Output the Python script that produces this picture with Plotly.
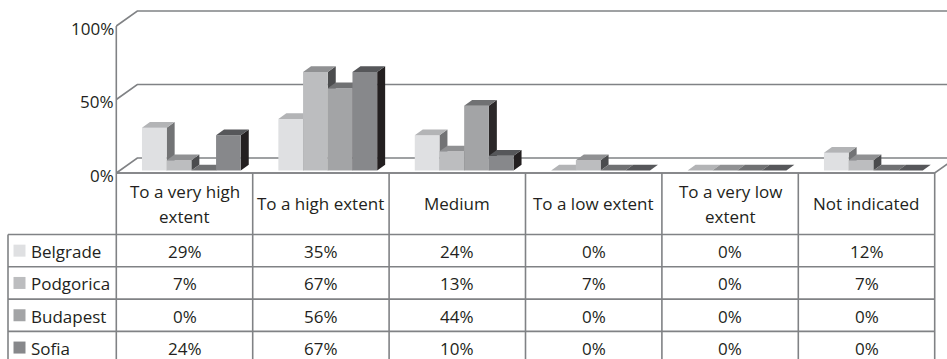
import plotly.graph_objects as go

# ---- data -------------------------------------------------------------
categories = ["To a very high\nextent", "To a high extent", "Medium",
              "To a low extent", "To a very low\nextent", "Not indicated"]
series_names = ["Belgrade", "Podgorica", "Budapest", "Sofia"]
belgrade = [29, 35, 24, 0, 0, 12]
podgorica = [7, 67, 13, 7, 0, 7]
budapest = [0, 56, 44, 0, 0, 0]
sofia = [24, 67, 10, 0, 0, 0]
y_ticks = [0, 50, 100]
y_tick_labels = ["0%", "50%", "100%"]

series_values = [belgrade, podgorica, budapest, sofia]

# ---- styling ------------------------------------------------------------
front_colors = ["#dfe0e2", "#bcbdbf", "#a3a4a6", "#87888b"]
top_colors = ["#b3b4b6", "#909193", "#707173", "#56575a"]
side_colors = ["#727375", "#4b4c4e", "#2b2829", "#231f20"]
line_color = "#808285"
text_color = "#231f20"
FONT = "Open Sans"
FS = 17

W, H = 947, 359
COL_W = 136.4          # px per category column
X_LEFT_PX = 116.3      # px of the front-left corner of the plot
ZERO_PX = 173          # px of the front floor edge / table top
PX_PER_PCT = 1.47      # vertical scale of the value axis
ROW_PX = 32.3          # table body row height

DX = 21 / COL_W        # depth vector (category units)
DY = 15 / PX_PER_PCT   # depth vector (percent units)
BW = 24.7 / COL_W      # bar width
GROUP_SHIFT = 3.3 / COL_W
F0, DEPTH = 0.17, 0.38
HEADER_ROWS = 61.5 / ROW_PX
LINE_STEP = 25 / ROW_PX


def x_of_px(px):
    return (px - X_LEFT_PX) / COL_W - 0.5


n_cat = len(categories)
n_ser = len(series_values)
x_lo, x_hi = -0.5, n_cat - 0.5
x_legend = x_of_px(8)

fig = go.Figure()

# ---- back walls and floor edges ----------------------------------------
gx, gy = [], []
for v in y_ticks:
    gx += [x_lo, x_lo + DX, x_hi + DX, None]
    gy += [v, v + DY, v + DY, None]
gx += [x_lo, x_lo, None, x_lo, x_hi, x_hi + DX, None]
gy += [0, max(y_ticks), None, 0, 0, DY, None]
fig.add_trace(go.Scatter(x=gx, y=gy, mode="lines",
                         line=dict(color=line_color, width=1.6),
                         hoverinfo="skip"))

# ---- 3D columns ---------------------------------------------------------
for s, values in enumerate(series_values):
    fx, fy, tx, ty, sx, sy = [], [], [], [], [], []
    ddx, ddy = DEPTH * DX, DEPTH * DY
    for c, v in enumerate(values):
        x0 = c + GROUP_SHIFT + (s - n_ser / 2) * BW + F0 * DX
        x1 = x0 + BW
        b = F0 * DY
        t = b + v
        if v > 0:
            fx += [x0, x1, x1, x0, x0, None]
            fy += [b, b, t, t, b, None]
            sx += [x1, x1 + ddx, x1 + ddx, x1, x1, None]
            sy += [b, b + ddy, t + ddy, t, b, None]
        tx += [x0, x1, x1 + ddx, x0 + ddx, x0, None]
        ty += [t, t, t + ddy, t + ddy, t, None]
    for xs, ys, col in ((sx, sy, side_colors[s]),
                        (fx, fy, front_colors[s]),
                        (tx, ty, top_colors[s])):
        if xs:
            fig.add_trace(go.Scatter(x=xs, y=ys, mode="lines", fill="toself",
                                     fillcolor=col, line=dict(width=0),
                                     hoverinfo="skip"))

# ---- value axis labels --------------------------------------------------
for v, lab in zip(y_ticks, y_tick_labels):
    fig.add_annotation(x=x_lo, y=v, xref="x", yref="y", text=lab,
                       showarrow=False, xanchor="right", yanchor="middle",
                       xshift=0, yshift=-2,
                       font=dict(family=FONT, size=FS, color=text_color))

# ---- data table ---------------------------------------------------------
row_tops = [-HEADER_ROWS - k for k in range(n_ser + 1)]
tl = dict(color=line_color, width=1.6)
shapes = [dict(type="line", xref="x", yref="y2", x0=x_lo, x1=x_hi,
               y0=0, y1=0, line=tl)]
for yt in row_tops:
    shapes.append(dict(type="line", xref="x", yref="y2", x0=x_legend,
                       x1=x_hi, y0=yt, y1=yt, line=tl))
bottom = row_tops[-1]
shapes.append(dict(type="line", xref="x", yref="y2", x0=x_legend,
                   x1=x_legend, y0=-HEADER_ROWS, y1=bottom, line=tl))
for k in range(n_cat + 1):
    shapes.append(dict(type="line", xref="x", yref="y2", x0=x_lo + k,
                       x1=x_lo + k, y0=0, y1=bottom, line=tl))

for c, cat in enumerate(categories):
    lines = cat.split("\n")
    nl = len(lines)
    for i, ln in enumerate(lines):
        yc = -HEADER_ROWS / 2 + (nl - 1) / 2 * LINE_STEP - i * LINE_STEP
        fig.add_annotation(x=c, y=yc, xref="x", yref="y2", text=ln,
                           showarrow=False, xanchor="center",
                           yanchor="middle",
                           font=dict(family=FONT, size=FS, color=text_color))

for s, (name, values) in enumerate(zip(series_names, series_values)):
    yc = -HEADER_ROWS - s - 0.5
    fig.add_trace(go.Scatter(x=[x_of_px(19.5)], y=[yc], yaxis="y2",
                             mode="markers",
                             marker=dict(symbol="square", size=12,
                                         color=front_colors[s],
                                         line=dict(width=0)),
                             hoverinfo="skip"))
    fig.add_annotation(x=x_of_px(29), y=yc, xref="x", yref="y2", text=name,
                       showarrow=False, xanchor="left", yanchor="middle",
                       yshift=-1,
                       font=dict(family=FONT, size=FS, color=text_color))
    for c, v in enumerate(values):
        fig.add_annotation(x=c, y=yc, xref="x", yref="y2", text=f"{v}%",
                           showarrow=False, xanchor="center",
                           yanchor="middle", yshift=-1,
                           font=dict(family=FONT, size=FS, color=text_color))

fig.update_layout(
    width=W, height=H,
    margin=dict(l=0, r=0, t=0, b=0),
    paper_bgcolor="white", plot_bgcolor="white",
    showlegend=False,
    shapes=shapes,
    xaxis=dict(range=[x_of_px(0), x_of_px(W)], visible=False,
               fixedrange=True),
    yaxis=dict(range=[-(H - ZERO_PX) / PX_PER_PCT, ZERO_PX / PX_PER_PCT],
               visible=False, fixedrange=True),
    yaxis2=dict(range=[-(H - ZERO_PX) / ROW_PX, ZERO_PX / ROW_PX],
                overlaying="y", visible=False, fixedrange=True),
)

fig.write_html("out.html")
